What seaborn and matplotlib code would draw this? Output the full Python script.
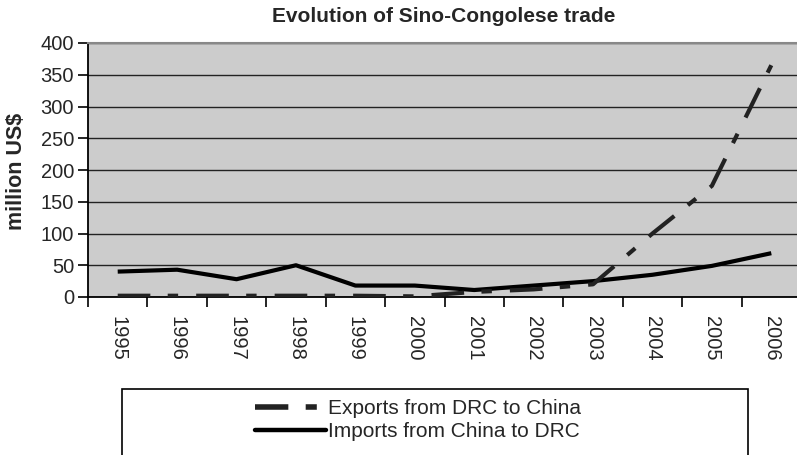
import matplotlib
matplotlib.use("Agg")
import matplotlib.pyplot as plt
import seaborn as sns
import pandas as pd
from matplotlib.lines import Line2D
from matplotlib.patches import Rectangle

years = [1995, 1996, 1997, 1998, 1999, 2000, 2001, 2002, 2003, 2004, 2005, 2006]
exports = [2, 2, 2, 2, 2, 1, 8, 12, 20, 100, 175, 365]
imports = [40, 43, 28, 50, 18, 18, 11, 18, 25, 35, 49, 69]
labels = ["Exports from DRC to China", "Imports from China to DRC"]
title = "Evolution of Sino-Congolese trade"
ylabel = "million US$"
yticks = [0, 50, 100, 150, 200, 250, 300, 350, 400]

sns.set_theme(style="white")
plt.rcParams["font.family"] = ["Liberation Sans", "DejaVu Sans"]
plt.rcParams["lines.scale_dashes"] = False

W, H = 797, 455
fig = plt.figure(figsize=(W / 100, H / 100), dpi=100)
x0, x1, ytop, ybot = 88, 801, 43, 297
ax = fig.add_axes([x0 / W, 1 - ybot / H, (x1 - x0) / W, (ybot - ytop) / H])
ax.set_facecolor("#CCCCCC")

df = pd.DataFrame({"year": years, "exports": exports, "imports": imports})
dash = (0, (23.5, 12.5, 7.5, 13))
sns.lineplot(data=df, x="year", y="imports", ax=ax, color="black", linewidth=3.0,
             solid_capstyle="butt", zorder=3)
sns.lineplot(data=df, x="year", y="exports", ax=ax, color="#222222", linewidth=3.0,
             linestyle=dash, dash_capstyle="butt", zorder=4)

ax.set_xlim(years[0] - 0.5, years[-1] + 0.5)
ax.set_ylim(0, 400)
ax.set_yticks(yticks)
ax.set_yticklabels([str(v) for v in yticks], fontsize=14.5)
ax.yaxis.grid(True, color="#222222", linewidth=1.0)
ax.set_axisbelow(True)
ax.xaxis.grid(False)

ax.set_xticks(years)
ax.set_xticklabels([str(y) for y in years], rotation=270, fontsize=14.5)
ax.set_xticks([y - 0.5 for y in years] + [years[-1] + 0.5], minor=True)
ax.tick_params(axis="x", which="major", length=0, pad=14)
ax.tick_params(axis="x", which="minor", length=7, width=1.2, color="black", bottom=True)
ax.tick_params(axis="y", which="major", length=7, width=1.2, color="black", left=True, pad=3)

for s in ["left", "bottom"]:
    ax.spines[s].set_color("black")
    ax.spines[s].set_linewidth(1.3)
ax.spines["top"].set_color("#888888")
ax.spines["top"].set_linewidth(1.5)
ax.spines["right"].set_visible(False)

ax.set_xlabel("")
ax.set_ylabel("")
fig.text(444 / W, 1 - 16 / H, title, ha="center", va="center", fontsize=15, fontweight="bold")
fig.text(17 / W, 1 - 171 / H, ylabel, ha="center", va="center", rotation=90,
         fontsize=15.5, fontweight="bold")

# legend box
fig.patches.append(Rectangle((122 / W, 0 - 0.02), (748 - 122) / W, (455 - 389) / H + 0.02,
                             transform=fig.transFigure, fill=False, edgecolor="black",
                             linewidth=1.2))
handles = [
    Line2D([0], [0], color="#222222", linewidth=4.0, linestyle=(0, (24, 12.5, 8, 100))),
    Line2D([0], [0], color="black", linewidth=3.2),
]
leg = fig.legend(handles, labels, loc="center", bbox_to_anchor=(418 / W, 1 - 420 / H),
                 frameon=False, fontsize=15, handlelength=3.4, handletextpad=0.1,
                 labelspacing=0.2)

fig.savefig("out.png", dpi=100)
